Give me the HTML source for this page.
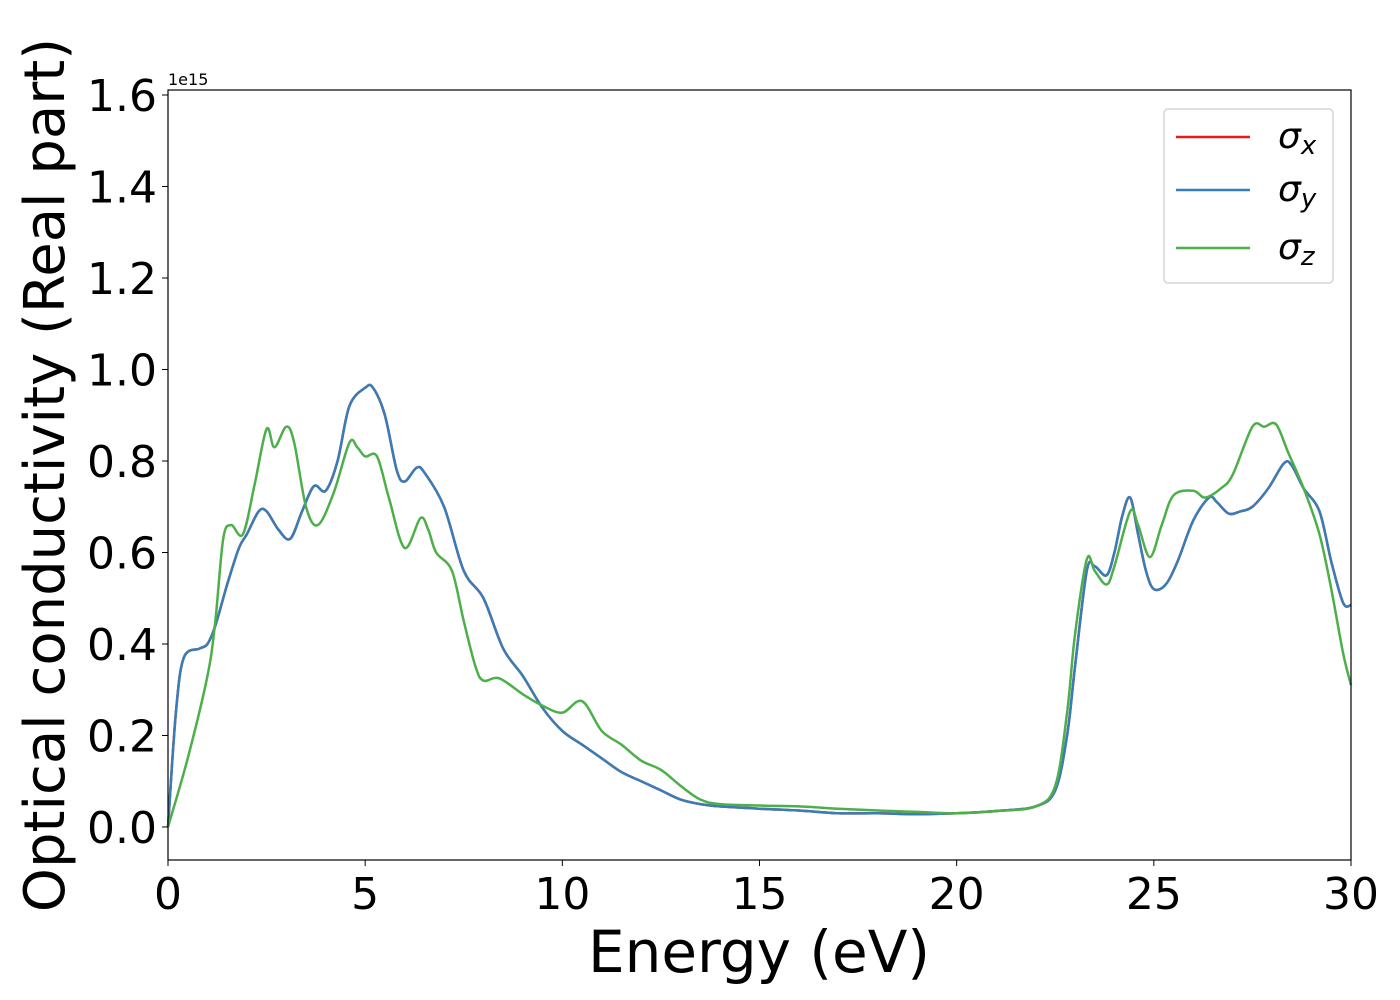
<!DOCTYPE html>
<html><head><meta charset="utf-8"><style>
body{margin:0;background:#fff;}
svg{display:block;font-family:"DejaVu Sans","Liberation Sans",sans-serif;}
</style></head><body>
<svg id="chart" width="1400" height="1000" viewBox="0 0 1400 1000" xmlns="http://www.w3.org/2000/svg">
<g id="marks"></g>
<rect x="168" y="90" width="1183" height="770" fill="none" stroke="#000" stroke-width="1.2"/>
<g id="xticks"></g>
<g id="yticks"></g>
<text x="168" y="85" font-size="16">1e15</text>
<text x="759" y="972" font-size="58" text-anchor="middle">Energy (eV)</text>
<text transform="translate(64,475) rotate(-90)" font-size="56" text-anchor="middle">Optical conductivity (Real part)</text>
<g>
<rect x="1164" y="109" width="169" height="174" rx="4" fill="#fff" stroke="#ccc" stroke-width="1.2"/>
<line x1="1176" y1="137" x2="1250" y2="137" stroke="#e41a1c" stroke-width="2.5"/>
<text x="1278" y="148" font-size="36" font-style="italic">σ<tspan font-size="26" dy="6">x</tspan></text>
<line x1="1176" y1="190" x2="1250" y2="190" stroke="#377eb8" stroke-width="2.5"/>
<text x="1278" y="201" font-size="36" font-style="italic">σ<tspan font-size="26" dy="6">y</tspan></text>
<line x1="1176" y1="248" x2="1250" y2="248" stroke="#4daf4a" stroke-width="2.5"/>
<text x="1278" y="259" font-size="36" font-style="italic">σ<tspan font-size="26" dy="6">z</tspan></text>
</g>
</svg>
<script>
const energyXY=[0,0.2,0.4,0.8,1.0,1.2,1.5,1.8,2.0,2.3,2.5,2.8,3.1,3.4,3.7,4.0,4.3,4.6,5.0,5.2,5.5,5.8,6.0,6.3,6.5,7.0,7.5,8.0,8.5,9.0,9.5,10,10.5,11,11.5,12,12.5,13,13.5,14,15,16,17,18,19,20,21,22,22.5,22.8,23,23.3,23.5,23.8,24.0,24.2,24.4,24.6,24.8,25.0,25.3,25.6,26.0,26.4,26.6,26.9,27.2,27.5,27.9,28.3,28.5,28.8,29.2,29.5,29.8,30];
const sigmaXY=[0,0.25,0.37,0.39,0.40,0.44,0.53,0.61,0.64,0.69,0.69,0.65,0.63,0.69,0.745,0.735,0.80,0.92,0.96,0.96,0.90,0.78,0.755,0.785,0.775,0.70,0.56,0.50,0.39,0.33,0.26,0.21,0.18,0.15,0.12,0.10,0.08,0.06,0.05,0.045,0.04,0.036,0.03,0.03,0.028,0.03,0.035,0.045,0.08,0.2,0.35,0.56,0.57,0.55,0.6,0.68,0.72,0.64,0.56,0.52,0.53,0.58,0.67,0.72,0.71,0.685,0.69,0.70,0.74,0.795,0.79,0.74,0.69,0.58,0.49,0.485];
const energyZ=[0,0.5,1.0,1.2,1.4,1.6,1.9,2.2,2.5,2.7,3.0,3.2,3.5,3.8,4.2,4.6,4.8,5.0,5.3,5.6,6.0,6.4,6.6,6.8,7.2,7.5,7.8,8.0,8.4,9.0,9.5,10.0,10.5,11.0,11.5,12.0,12.5,13,13.5,14,15,16,17,18,19,20,21,22,22.5,22.8,23,23.3,23.5,23.8,24.0,24.4,24.6,24.9,25.2,25.5,26.0,26.3,26.7,27.0,27.5,27.8,28.1,28.4,28.8,29.2,29.5,29.8,30];
const sigmaZ=[0,0.15,0.33,0.45,0.63,0.66,0.64,0.75,0.87,0.83,0.875,0.84,0.70,0.66,0.73,0.84,0.83,0.81,0.81,0.72,0.61,0.675,0.65,0.60,0.56,0.45,0.35,0.32,0.325,0.29,0.265,0.25,0.275,0.21,0.18,0.145,0.125,0.09,0.06,0.05,0.047,0.045,0.04,0.036,0.033,0.03,0.035,0.045,0.09,0.25,0.42,0.585,0.56,0.53,0.57,0.69,0.66,0.59,0.66,0.725,0.735,0.72,0.74,0.77,0.875,0.875,0.88,0.82,0.74,0.64,0.52,0.38,0.31];
const xTicks=[0,5,10,15,20,25,30];
const yTicks=[0.0,0.2,0.4,0.6,0.8,1.0,1.2,1.4,1.6];
const NS="http://www.w3.org/2000/svg";
const X=v=>168+(v/30)*1183;
const Y=v=>827-v*457.5;
function path(xs,ys){
  const p=xs.map((x,i)=>[X(x),Y(ys[i])]);
  let d="M"+p[0][0]+","+p[0][1];
  for(let i=0;i<p.length-1;i++){
    const p0=p[Math.max(0,i-1)],p1=p[i],p2=p[i+1],p3=p[Math.min(p.length-1,i+2)];
    const c1=[p1[0]+(p2[0]-p0[0])/6,p1[1]+(p2[1]-p0[1])/6];
    const c2=[p2[0]-(p3[0]-p1[0])/6,p2[1]-(p3[1]-p1[1])/6];
    d+=`C${c1[0]},${c1[1]} ${c2[0]},${c2[1]} ${p2[0]},${p2[1]}`;
  }
  return d;
}
const marks=document.getElementById('marks');
[["series-sigma-x",energyXY,sigmaXY,"#e41a1c"],["series-sigma-y",energyXY,sigmaXY,"#377eb8"],["series-sigma-z",energyZ,sigmaZ,"#4daf4a"]].forEach(s=>{
  const e=document.createElementNS(NS,'path');
  
  
  e.setAttribute('d',path(s[1],s[2]));
  e.setAttribute('fill','none');e.setAttribute('stroke',s[3]);e.setAttribute('stroke-width','2.5');
  marks.appendChild(e);
});
const xg=document.getElementById('xticks');
xTicks.forEach(t=>{
  const l=document.createElementNS(NS,'line');
  
  
  l.setAttribute('x1',X(t));l.setAttribute('x2',X(t));l.setAttribute('y1',860);l.setAttribute('y2',866);l.setAttribute('stroke','#000');
  xg.appendChild(l);
  const tx=document.createElementNS(NS,'text');
  
  
  tx.setAttribute('x',X(t));tx.setAttribute('y',909);tx.setAttribute('font-size','44');tx.setAttribute('text-anchor','middle');
  tx.textContent=t;xg.appendChild(tx);
});
const yg=document.getElementById('yticks');
yTicks.forEach(t=>{
  const l=document.createElementNS(NS,'line');
  
  
  l.setAttribute('x1',162);l.setAttribute('x2',168);l.setAttribute('y1',Y(t));l.setAttribute('y2',Y(t));l.setAttribute('stroke','#000');
  yg.appendChild(l);
  const tx=document.createElementNS(NS,'text');
  
  
  tx.setAttribute('x',157);tx.setAttribute('y',Y(t)+16);tx.setAttribute('font-size','44');tx.setAttribute('text-anchor','end');
  tx.textContent=t.toFixed(1);yg.appendChild(tx);
});
</script>
</body></html>
